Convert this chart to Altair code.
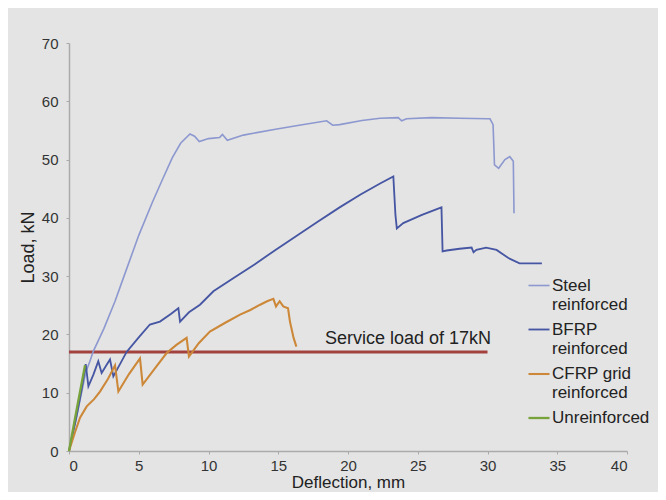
import altair as alt
import pandas as pd

series_names = ["Steel reinforced", "BFRP reinforced", "CFRP grid reinforced", "Unreinforced"]
series_colors = ["#8c98cf", "#4656a3", "#cc8838", "#77a33a"]
series_widths = [1.6, 2.3, 2.3, 2.3]

steel_x = [0, 0.6, 1.2, 1.5, 1.74, 2.5, 3.3, 3.9, 5.0, 6.0, 6.74, 7.4, 8.0, 8.67, 9.0, 9.34,
           10.0, 10.8, 11.0, 11.35, 12.5, 14.8, 16.5, 18.47, 18.9, 19.4, 21.0, 22.3, 23.6,
           23.85, 24.2, 26.0, 28.0, 30.0, 30.18, 30.4, 30.5, 30.8, 31.25, 31.6, 31.85, 31.9]
steel_y = [0, 6.5, 13.5, 15.4, 17.1, 21.0, 25.7, 29.7, 37.0, 42.8, 46.8, 50.3, 52.8, 54.4, 54.0, 53.1,
           53.6, 53.8, 54.3, 53.3, 54.2, 55.2, 55.9, 56.65, 55.9, 56.0, 56.7, 57.1, 57.2,
           56.65, 57.0, 57.2, 57.1, 57.0, 57.0, 56.0, 49.1, 48.5, 50.0, 50.5, 49.7, 40.8]

bfrp_x = [0, 0.5, 0.9, 1.2, 1.39, 1.75, 2.1, 2.34, 2.7, 2.94, 3.18, 4.13, 5.0, 5.8, 6.52, 7.3,
          7.84, 7.96, 8.6, 9.39, 10.35, 11.8, 13.3, 14.8, 16.3, 17.8, 19.4, 20.9, 22.3, 23.25,
          23.4, 23.5, 23.96, 25.3, 26.7, 26.78, 27.07, 28.0, 28.86, 29.0, 29.2, 29.9, 30.65,
          31.5, 32.3, 33.9]
bfrp_y = [0, 5.5, 10.5, 14.9, 11.1, 13.1, 15.4, 13.4, 14.8, 15.7, 12.8, 17.0, 19.5, 21.7, 22.2, 23.5,
          24.5, 22.2, 23.8, 25.1, 27.4, 29.7, 32.0, 34.5, 36.9, 39.3, 41.8, 44.0, 45.9, 47.1,
          40.5, 38.2, 39.1, 40.5, 41.8, 34.25, 34.4, 34.7, 34.9, 34.1, 34.5, 34.9, 34.5,
          33.1, 32.2, 32.2]

cfrp_x = [0, 0.4, 0.79, 1.27, 1.8, 2.22, 2.8, 3.3, 3.54, 4.3, 5.09, 5.28, 6.2, 7.0, 7.7, 8.43,
          8.6, 9.3, 10.1, 11.2, 12.26, 13.0, 13.7, 14.2, 14.65, 14.84, 15.1, 15.36, 15.7,
          15.84, 16.1, 16.3]
cfrp_y = [0, 3.0, 5.7, 7.66, 8.9, 10.2, 12.4, 14.7, 10.2, 13.2, 15.9, 11.4, 14.3, 16.8, 18.2, 19.4,
          16.2, 18.5, 20.5, 22.0, 23.4, 24.2, 25.1, 25.7, 26.1, 24.8, 25.7, 24.8, 24.5,
          22.2, 19.4, 17.9]

unrein_x = [0, 0.4, 0.8, 1.15]
unrein_y = [0, 5.2, 10.3, 14.7]

service_load = 17
service_x_end = 30
service_label = "Service load of 17kN"
service_label_x = 30.25

x_ticks = [0, 5, 10, 15, 20, 25, 30, 35, 40]
y_ticks = [0, 10, 20, 30, 40, 50, 60, 70]

rows = []
for name, xs, ys in zip(series_names, [steel_x, bfrp_x, cfrp_x, unrein_x],
                        [steel_y, bfrp_y, cfrp_y, unrein_y]):
    for i, (a, b) in enumerate(zip(xs, ys)):
        rows.append({"series": name, "x": a, "y": b, "i": i})
df = pd.DataFrame(rows)

xscale = alt.Scale(domain=[0, 40], nice=False)
yscale = alt.Scale(domain=[0, 70], nice=False)

axis_common = dict(domainColor="#aaaaaa", domainWidth=1.5, tickColor="#aaaaaa", tickSize=3,
                   labelColor="#333333", labelFontSize=15, titleColor="#222222",
                   titleFontWeight="normal", grid=False, labelFont="Liberation Sans",
                   titleFont="Liberation Sans")

lines = alt.Chart(df).mark_line().encode(
    x=alt.X("x:Q", scale=xscale, axis=alt.Axis(values=x_ticks, title="Deflection, mm",
                                               labelPadding=4, titlePadding=1, titleFontSize=17,
                                               **axis_common)),
    y=alt.Y("y:Q", scale=yscale, axis=alt.Axis(values=y_ticks, title="Load, kN",
                                               labelPadding=8, titlePadding=4, titleFontSize=18,
                                               **axis_common)),
    color=alt.Color("series:N", scale=alt.Scale(domain=series_names, range=series_colors),
                    legend=alt.Legend(
                        title=None, orient="none", legendX=458, legendY=231,
                        symbolType="stroke", symbolSize=441, symbolStrokeWidth=2.5,
                        labelFontSize=17, labelColor="#222222", labelFont="Liberation Sans",
                        labelOffset=1, labelLimit=300, rowPadding=5, padding=0,
                        labelExpr="datum.label == 'Unreinforced' ? datum.label : [replace(datum.label, ' reinforced', ''), 'reinforced']")),
    strokeWidth=alt.StrokeWidth("series:N", scale=alt.Scale(domain=series_names, range=series_widths),
                                legend=None),
    order=alt.Order("i:Q"),
    detail="series:N",
)

sdf = pd.DataFrame({"x": [0], "x2": [service_x_end], "y": [service_load],
                    "lx": [service_label_x], "label": [service_label]})
rule = alt.Chart(sdf).mark_rule(color="#a3413f", strokeWidth=3).encode(
    x=alt.X("x:Q", scale=xscale), x2="x2:Q", y=alt.Y("y:Q", scale=yscale))
text = alt.Chart(sdf).mark_text(align="right", baseline="alphabetic", dy=-8, fontSize=18,
                                font="Liberation Sans", color="#222222").encode(
    x=alt.X("lx:Q", scale=xscale), y=alt.Y("y:Q", scale=yscale), text="label:N")

chart = alt.layer(rule, lines, text).properties(
    width=558, height=408,
    autosize=alt.AutoSizeParams(type="none"),
    padding={"left": 61, "top": 35, "right": 31, "bottom": 41},
    background="#e4e4e4",
).configure_view(stroke=None)

chart.save("out.html", embed_options={"renderer": "svg", "actions": False})
